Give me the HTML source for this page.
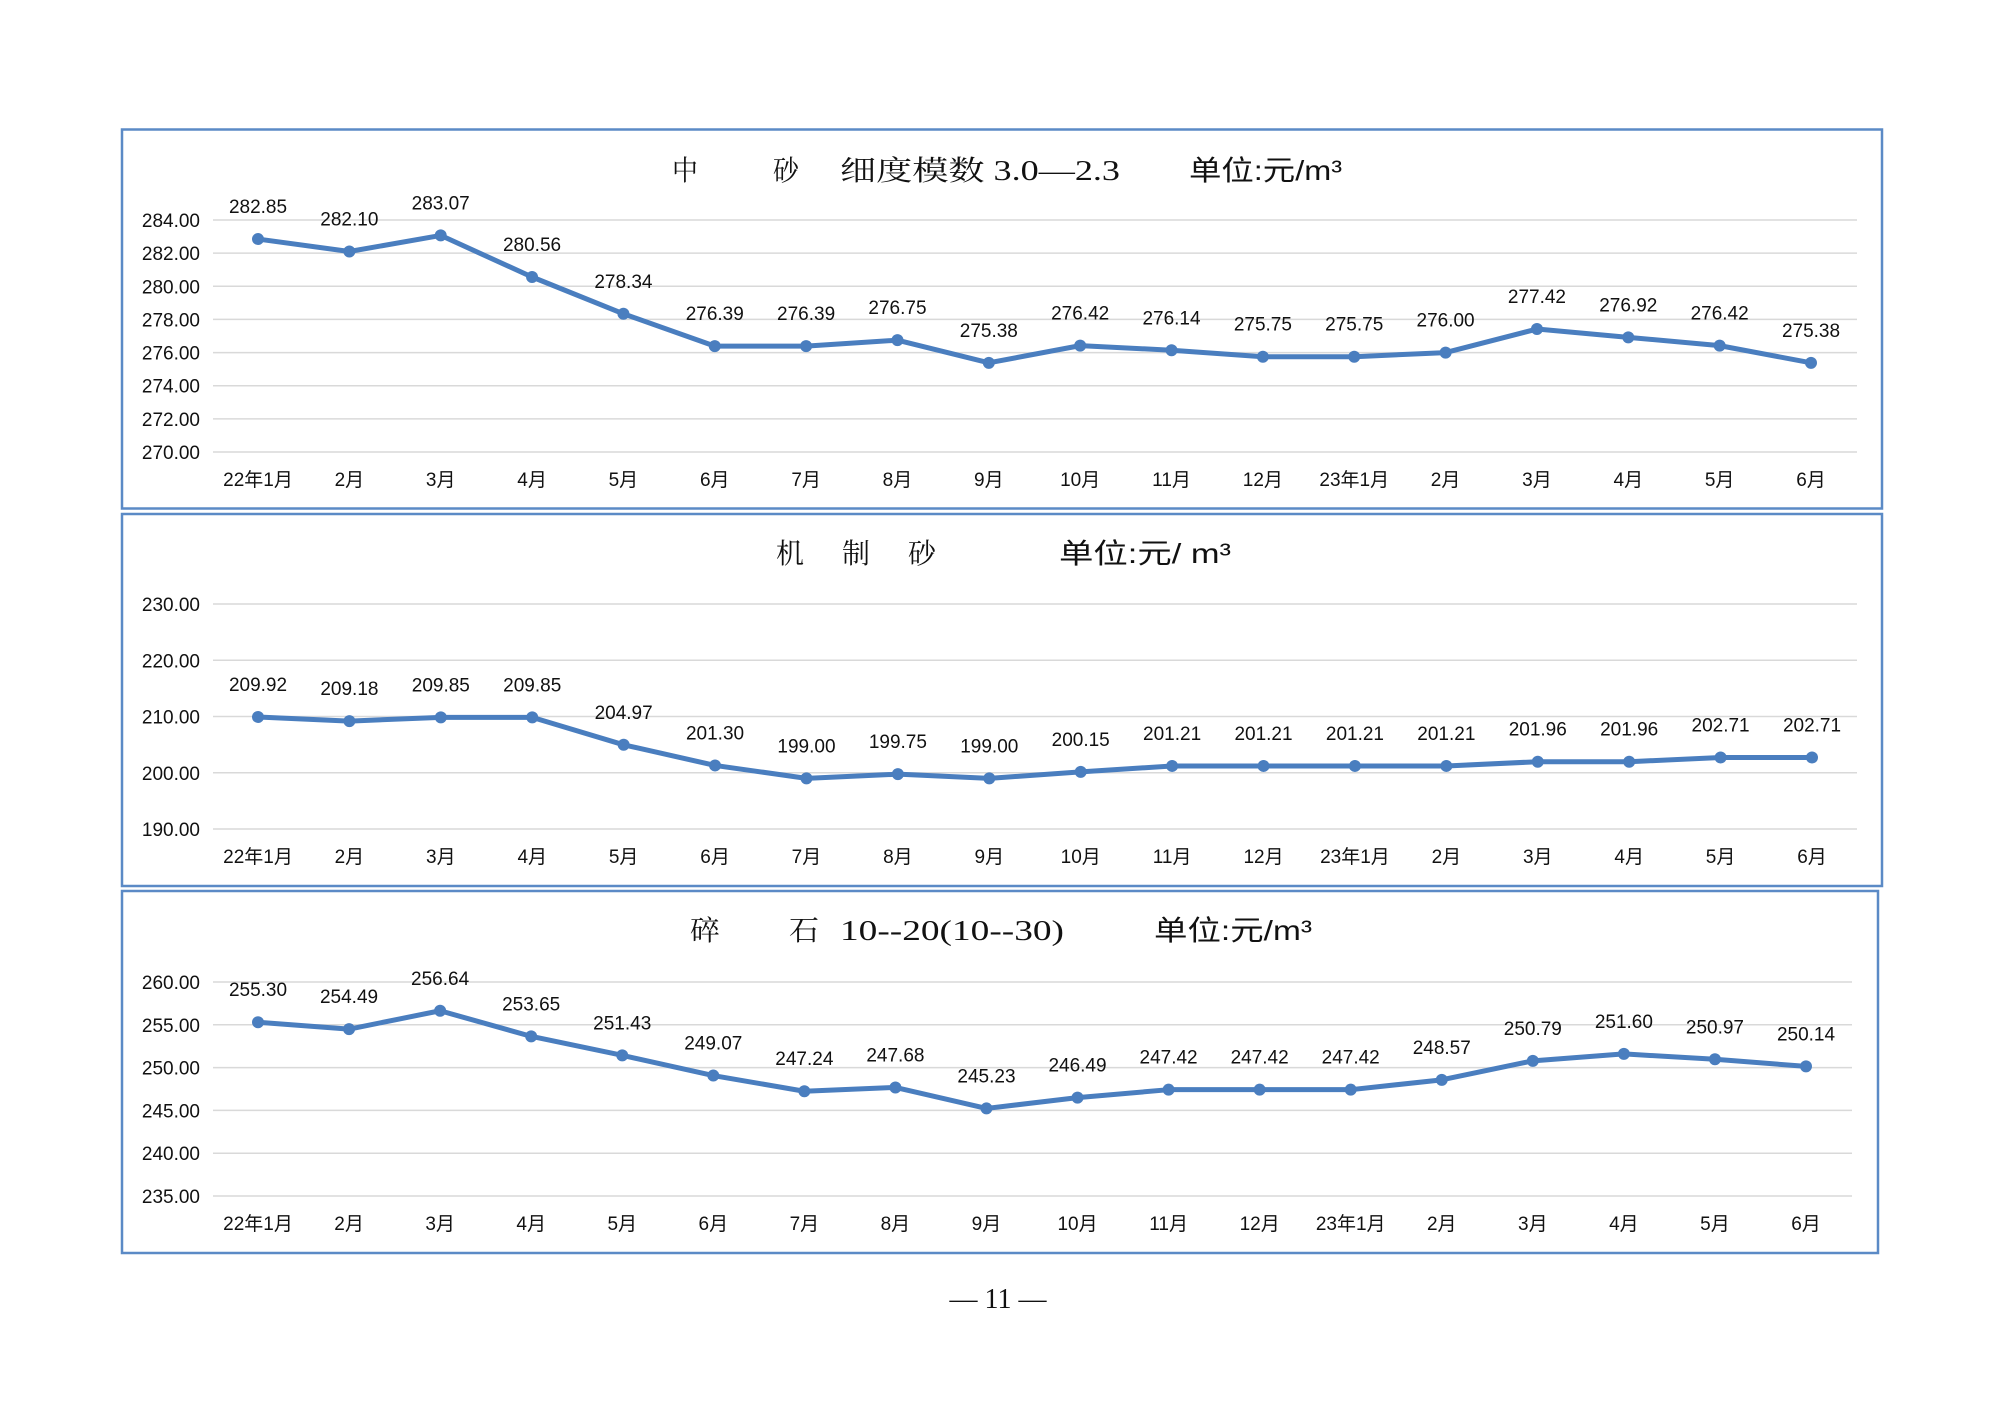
<!DOCTYPE html>
<html><head><meta charset="utf-8">
<style>
html,body{margin:0;padding:0;background:#fff;}
svg{display:block;}
.ax{font-family:"Liberation Sans","Noto Sans CJK SC",sans-serif;font-size:19px;fill:#111;}
.ttl{font-family:"Liberation Serif","Noto Serif CJK SC",serif;font-size:28px;fill:#111;}
.unit{font-family:"Liberation Sans","Noto Sans CJK SC",sans-serif;font-size:28px;fill:#111;}
</style></head>
<body>
<svg id="page" width="1995" height="1411" viewBox="0 0 1995 1411" xmlns="http://www.w3.org/2000/svg">
<rect x="0" y="0" width="1995" height="1411" fill="#fff"/>
<rect x="122" y="129.5" width="1760" height="379" fill="none" stroke="#5b8ac6" stroke-width="2.5"/>
<rect x="122" y="514" width="1760" height="372" fill="none" stroke="#5b8ac6" stroke-width="2.5"/>
<rect x="122" y="891" width="1756" height="362" fill="none" stroke="#5b8ac6" stroke-width="2.5"/>

<g>
<text class="ttl" x="672" y="180" textLength="26" lengthAdjust="spacingAndGlyphs">中</text>
<text class="ttl" x="773" y="180" textLength="26" lengthAdjust="spacingAndGlyphs">砂</text>
<text class="ttl" x="840" y="180" textLength="280" lengthAdjust="spacingAndGlyphs">细度模数 3.0—2.3</text>
<text class="unit" x="1189" y="180" textLength="153" lengthAdjust="spacingAndGlyphs">单位:元/m³</text>
</g>
<g>
<text class="ttl" x="776" y="563" textLength="28" lengthAdjust="spacingAndGlyphs">机</text>
<text class="ttl" x="842" y="563" textLength="28" lengthAdjust="spacingAndGlyphs">制</text>
<text class="ttl" x="908" y="563" textLength="28" lengthAdjust="spacingAndGlyphs">砂</text>
<text class="unit" x="1059" y="563" textLength="172" lengthAdjust="spacingAndGlyphs">单位:元/  m³</text>
</g>
<g>
<text class="ttl" x="690" y="940" textLength="30" lengthAdjust="spacingAndGlyphs">碎</text>
<text class="ttl" x="789" y="940" textLength="30" lengthAdjust="spacingAndGlyphs">石</text>
<text class="ttl" x="840" y="940" textLength="224" lengthAdjust="spacingAndGlyphs">10--20(10--30)</text>
<text class="unit" x="1154" y="940" textLength="158" lengthAdjust="spacingAndGlyphs">单位:元/m³</text>
</g>
<text class="ttl" x="998" y="1308" text-anchor="middle" font-size="26">— 11 —</text>
<g id="charts"></g>
</svg>
<script>
const categories = ["22年1月","2月","3月","4月","5月","6月","7月","8月","9月","10月","11月","12月","23年1月","2月","3月","4月","5月","6月"];
const sandValues = [282.85,282.10,283.07,280.56,278.34,276.39,276.39,276.75,275.38,276.42,276.14,275.75,275.75,276.00,277.42,276.92,276.42,275.38];
const sandTicks = [270,272,274,276,278,280,282,284];
const machineValues = [209.92,209.18,209.85,209.85,204.97,201.30,199.00,199.75,199.00,200.15,201.21,201.21,201.21,201.21,201.96,201.96,202.71,202.71];
const machineTicks = [190,200,210,220,230];
const stoneValues = [255.30,254.49,256.64,253.65,251.43,249.07,247.24,247.68,245.23,246.49,247.42,247.42,247.42,248.57,250.79,251.60,250.97,250.14];
const stoneTicks = [235,240,245,250,255,260];

const NS = "http://www.w3.org/2000/svg";
const root = document.getElementById('charts');
function mk(tag, attrs, parent){
  const e = document.createElementNS(NS, tag);
  for (const k in attrs) e.setAttribute(k, attrs[k]);
  parent.appendChild(e);
  return e;
}
function drawChart(name, values, ticks, cfg){
  const g = mk('g', {}, root);
  
  
  const tMin = ticks[0], tMax = ticks[ticks.length-1];
  const yScale = v => cfg.yBottom - (v - tMin) / (tMax - tMin) * (cfg.yBottom - cfg.yTop);
  const step = (cfg.xLast - cfg.xFirst) / (categories.length - 1);
  const xScale = i => cfg.xFirst + i * step;
  ticks.forEach(t => {
    const y = yScale(t);
    const ln = mk('line', {x1: cfg.gridLeft, x2: cfg.gridRight, y1: y, y2: y, stroke: '#d9d9d9', 'stroke-width': 1.5}, g);
    
    
    const tx = mk('text', {x: 200, y: y + 7, 'text-anchor': 'end', class: 'ax'}, g);
    
    
    tx.textContent = t.toFixed(2);
  });
  categories.forEach((c, i) => {
    const tx = mk('text', {x: xScale(i), y: cfg.xLabelY + 7, 'text-anchor': 'middle', class: 'ax'}, g);
    
    
    tx.textContent = c;
  });
  const pts = values.map((v, i) => xScale(i) + ',' + yScale(v)).join(' ');
  const pl = mk('polyline', {points: pts, fill: 'none', stroke: '#4a7ebf', 'stroke-width': 5, 'stroke-linejoin': 'round'}, g);
  
  
  values.forEach((v, i) => {
    const c = mk('circle', {cx: xScale(i), cy: yScale(v), r: 6, fill: '#4a7ebf'}, g);
    
    
    const tx = mk('text', {x: xScale(i), y: yScale(v) - 26, 'text-anchor': 'middle', class: 'ax'}, g);
    
    
    tx.textContent = v.toFixed(2);
  });
}
drawChart('chart-medium-sand', sandValues, sandTicks, {yTop: 220, yBottom: 452, gridLeft: 213, gridRight: 1857, xFirst: 258, xLast: 1811, xLabelY: 479});
drawChart('chart-machine-sand', machineValues, machineTicks, {yTop: 604, yBottom: 829, gridLeft: 213, gridRight: 1857, xFirst: 258, xLast: 1812, xLabelY: 856});
drawChart('chart-crushed-stone', stoneValues, stoneTicks, {yTop: 982, yBottom: 1196, gridLeft: 213, gridRight: 1852, xFirst: 258, xLast: 1806, xLabelY: 1223});
</script>
</body></html>
